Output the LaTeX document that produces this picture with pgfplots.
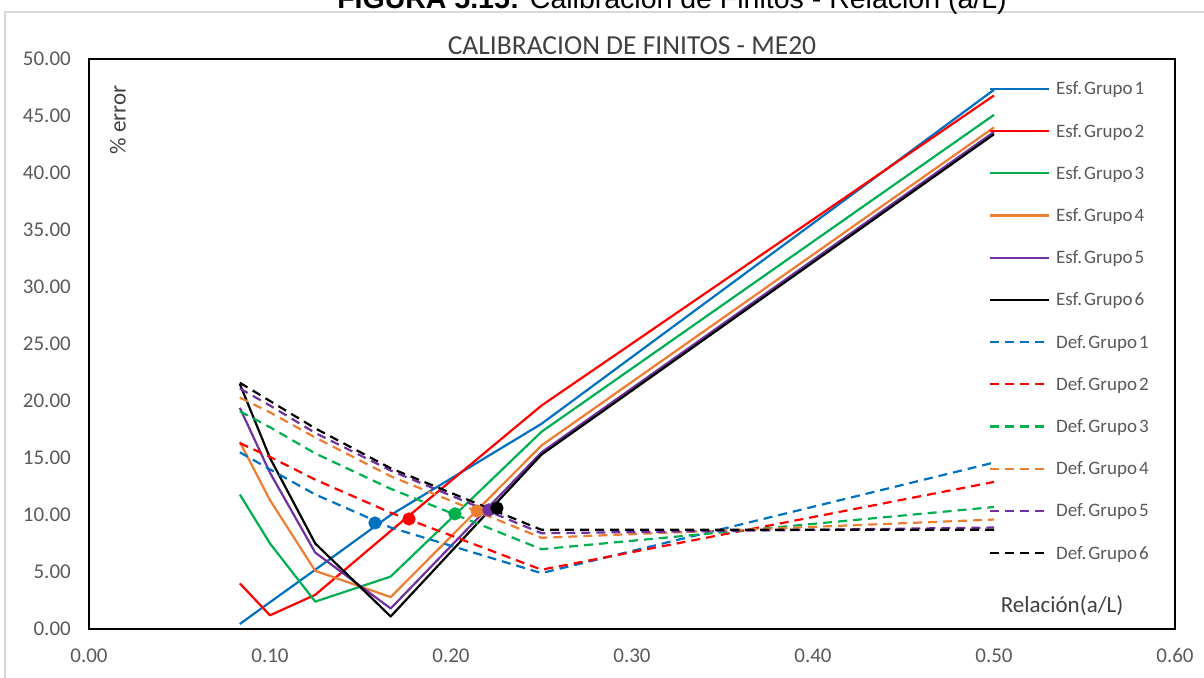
\documentclass[border=0pt]{standalone}
\usepackage{fontspec}
\setmainfont{Carlito}
\newfontfamily\arial{Liberation Sans}
\usepackage{pgfplots}
\pgfplotsset{compat=1.18}
\definecolor{cblue}{HTML}{0070C0}
\definecolor{cred}{HTML}{FF0000}
\definecolor{cgreen}{HTML}{00B050}
\definecolor{corange}{HTML}{ED7D31}
\definecolor{cpurple}{HTML}{7030A0}
\definecolor{tickgray}{HTML}{595959}
\definecolor{titlegray}{HTML}{404040}
\definecolor{framegray}{HTML}{D9D9D9}
\newcommand{\leg}[2]{#1.\hspace{2pt}Grupo\hspace{2pt}#2}
\begin{document}
\begin{tikzpicture}
\path[use as bounding box] (-89pt,-48pt) rectangle (1115pt,629pt);
\draw[color=framegray, line width=1.5pt] (-84pt,-90pt) rectangle (1150pt,617pt);
\node[font=\arial\fontsize{28.5}{34}\selectfont, anchor=base, inner sep=0pt] at (583pt,620pt) {\textbf{FIGURA 5.15:} Calibración de Finitos - Relación (a/L)};
\begin{axis}[
  name=ax, at={(0pt,0pt)}, anchor=south west,
  scale only axis, width=1086pt, height=570pt,
  xmin=0, xmax=0.6, ymin=0, ymax=50,
  xtick={0,0.1,0.2,0.3,0.4,0.5,0.6},
  ytick={0,5,10,15,20,25,30,35,40,45,50},
  major tick length=0pt,
  axis line style={line width=1.8pt, black},
  tick label style={font=\fontsize{21}{25}\selectfont, text=tickgray},
  xticklabel={\pgfmathprintnumber[fixed,fixed zerofill,precision=2,assume math mode=true]{\tick}},
  yticklabel={\pgfmathprintnumber[fixed,fixed zerofill,precision=2,assume math mode=true]{\tick}},
  xticklabel style={anchor=base, yshift=-33pt, inner sep=0pt},
  yticklabel style={anchor=east, xshift=-18pt, inner sep=0pt},
  legend style={at={(rel axis cs:0.8287,0.9844)}, anchor=north west, draw=none, fill=none,
    inner sep=0pt, outer sep=0pt, row sep=0pt, column sep=6pt,
    font=\fontsize{19}{22}\selectfont, text=tickgray,
    nodes={inner sep=0pt, text height=27.1pt, text depth=15.1pt}},
  legend cell align=left,
  legend image code/.code={\draw[#1] (0pt,0pt) -- (59pt,0pt);},
  every axis plot/.append style={line width=2.2pt, line join=round},
  esf/.style={solid},
  def/.style={dash pattern=on 9pt off 6pt},
  clip=false,
]
\addplot[cblue, esf] coordinates {(0.08333,0.44) (0.1,2.35) (0.125,5.2) (0.16667,10.0) (0.25,18.0) (0.5,47.3)};
\addlegendentry{\leg{Esf}{1}}
\addplot[cred, esf] coordinates {(0.08333,4.0) (0.1,1.2) (0.125,3.0) (0.16667,8.6) (0.25,19.6) (0.5,46.8)};
\addlegendentry{\leg{Esf}{2}}
\addplot[cgreen, esf] coordinates {(0.08333,11.8) (0.1,7.5) (0.125,2.4) (0.16667,4.6) (0.25,17.3) (0.5,45.1)};
\addlegendentry{\leg{Esf}{3}}
\addplot[corange, esf] coordinates {(0.08333,16.4) (0.1,11.3) (0.125,5.1) (0.16667,2.8) (0.25,16.1) (0.5,44.0)};
\addlegendentry{\leg{Esf}{4}}
\addplot[cpurple, esf] coordinates {(0.08333,19.4) (0.1,13.7) (0.125,6.7) (0.16667,1.8) (0.25,15.5) (0.5,43.6)};
\addlegendentry{\leg{Esf}{5}}
\addplot[black, esf] coordinates {(0.08333,21.5) (0.1,15.0) (0.125,7.5) (0.16667,1.1) (0.25,15.3) (0.5,43.4)};
\addlegendentry{\leg{Esf}{6}}
\addplot[cblue, def] coordinates {(0.08333,15.5) (0.1,14.0) (0.125,11.8) (0.16667,8.9) (0.25,4.9) (0.5,14.6)};
\addlegendentry{\leg{Def}{1}}
\addplot[cred, def] coordinates {(0.08333,16.3) (0.1,15.1) (0.125,13.1) (0.16667,10.2) (0.25,5.2) (0.5,12.9)};
\addlegendentry{\leg{Def}{2}}
\addplot[cgreen, def] coordinates {(0.08333,19.1) (0.1,17.7) (0.125,15.4) (0.16667,12.3) (0.25,7.0) (0.5,10.7)};
\addlegendentry{\leg{Def}{3}}
\addplot[corange, def] coordinates {(0.08333,20.3) (0.1,19.0) (0.125,16.8) (0.16667,13.4) (0.25,8.0) (0.5,9.6)};
\addlegendentry{\leg{Def}{4}}
\addplot[cpurple, def] coordinates {(0.08333,21.1) (0.1,19.6) (0.125,17.2) (0.16667,13.9) (0.25,8.4) (0.5,8.9)};
\addlegendentry{\leg{Def}{5}}
\addplot[black, def] coordinates {(0.08333,21.6) (0.1,20.0) (0.125,17.6) (0.16667,14.1) (0.25,8.7) (0.5,8.7)};
\addlegendentry{\leg{Def}{6}}
\addplot[only marks, mark=*, mark size=5.5pt, color=cblue, forget plot] coordinates {(0.158,9.3)};
\addplot[only marks, mark=*, mark size=5.5pt, color=cred, forget plot] coordinates {(0.1768,9.65)};
\addplot[only marks, mark=*, mark size=5.5pt, color=cgreen, forget plot] coordinates {(0.2022,10.1)};
\addplot[only marks, mark=*, mark size=5.5pt, color=corange, forget plot] coordinates {(0.2144,10.35)};
\addplot[only marks, mark=*, mark size=5.5pt, color=cpurple, forget plot] coordinates {(0.221,10.45)};
\addplot[only marks, mark=*, mark size=5.5pt, color=black, forget plot] coordinates {(0.2254,10.6)};
\node[font=\fontsize{27.5}{32}\selectfont, text=titlegray, anchor=base, inner sep=0pt] at (rel axis cs:0.5,1) [yshift=4pt] {CALIBRACION DE FINITOS - ME20};
\node[font=\fontsize{23}{27}\selectfont, text=titlegray, rotate=90, inner sep=0pt] at (rel axis cs:0.0267,0.893) {\% error};
\node[font=\fontsize{23}{27}\selectfont, text=titlegray, anchor=base, inner sep=0pt] at (rel axis cs:0.896,0.0286) {Relación(a/L)};
\end{axis}
\end{tikzpicture}
\end{document}
